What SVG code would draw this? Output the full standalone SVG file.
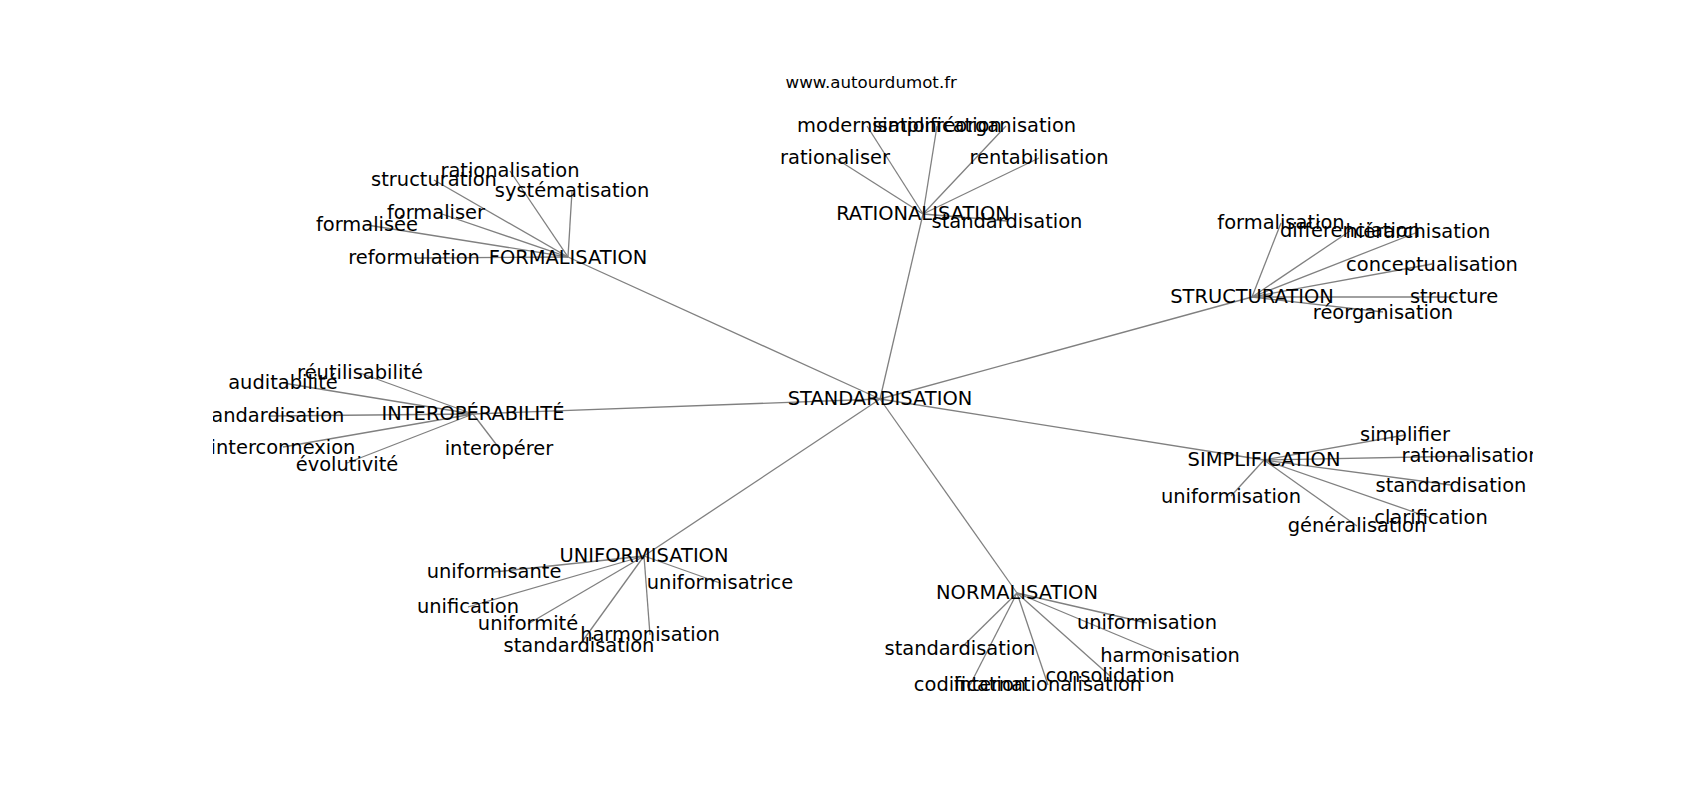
<svg xmlns="http://www.w3.org/2000/svg" width="1700" height="800" viewBox="0 0 1700 800">
<style>
.bg{fill:#ffffff}
.e line{stroke:#808080;stroke-width:1.3;fill:none}
.lbl{font-family:"DejaVu Sans","Liberation Sans",sans-serif;font-size:19.44px;fill:#000000;text-anchor:middle}
.title{font-family:"DejaVu Sans","Liberation Sans",sans-serif;font-size:16.67px;fill:#000000;text-anchor:middle}
</style>
<defs>
<clipPath id="ax"><rect x="213" y="96" width="1320" height="616"/></clipPath>
</defs>
<rect class="bg" x="0" y="0" width="1700" height="800"/>
<text class="title" x="871.25" y="87.7">www.autourdumot.fr</text>
<g clip-path="url(#ax)">
<g id="connectors" class="e">
<line x1="880" y1="399" x2="568" y2="257"/>
<line x1="880" y1="399" x2="923" y2="214"/>
<line x1="880" y1="399" x2="1252" y2="297"/>
<line x1="880" y1="399" x2="473" y2="414"/>
<line x1="880" y1="399" x2="1264" y2="460"/>
<line x1="880" y1="399" x2="644" y2="556"/>
<line x1="880" y1="399" x2="1017" y2="593"/>
<line x1="568" y1="257" x2="510" y2="171"/>
<line x1="568" y1="257" x2="434" y2="180"/>
<line x1="568" y1="257" x2="572" y2="191"/>
<line x1="568" y1="257" x2="436" y2="212"/>
<line x1="568" y1="257" x2="367" y2="225"/>
<line x1="568" y1="257" x2="414" y2="258"/>
<line x1="923" y1="214" x2="867" y2="126"/>
<line x1="923" y1="214" x2="937" y2="126"/>
<line x1="923" y1="214" x2="1006" y2="126"/>
<line x1="923" y1="214" x2="835" y2="158"/>
<line x1="923" y1="214" x2="1039" y2="158"/>
<line x1="923" y1="214" x2="1007" y2="221"/>
<line x1="1252" y1="297" x2="1281" y2="223"/>
<line x1="1252" y1="297" x2="1350" y2="231"/>
<line x1="1252" y1="297" x2="1418" y2="232"/>
<line x1="1252" y1="297" x2="1432" y2="264"/>
<line x1="1252" y1="297" x2="1454" y2="297"/>
<line x1="1252" y1="297" x2="1383" y2="312"/>
<line x1="473" y1="414" x2="360" y2="373"/>
<line x1="473" y1="414" x2="283" y2="383"/>
<line x1="473" y1="414" x2="269" y2="416"/>
<line x1="473" y1="414" x2="283" y2="447"/>
<line x1="473" y1="414" x2="347" y2="463"/>
<line x1="473" y1="414" x2="499" y2="448"/>
<line x1="1264" y1="460" x2="1405" y2="435"/>
<line x1="1264" y1="460" x2="1471" y2="456"/>
<line x1="1264" y1="460" x2="1451" y2="485"/>
<line x1="1264" y1="460" x2="1431" y2="518"/>
<line x1="1264" y1="460" x2="1357" y2="526"/>
<line x1="1264" y1="460" x2="1231" y2="496"/>
<line x1="644" y1="556" x2="494" y2="572"/>
<line x1="644" y1="556" x2="468" y2="607"/>
<line x1="644" y1="556" x2="528" y2="624"/>
<line x1="644" y1="556" x2="650" y2="635"/>
<line x1="644" y1="556" x2="579" y2="646"/>
<line x1="644" y1="556" x2="720" y2="583"/>
<line x1="1017" y1="593" x2="1147" y2="623"/>
<line x1="1017" y1="593" x2="1170" y2="657"/>
<line x1="1017" y1="593" x2="960" y2="649"/>
<line x1="1017" y1="593" x2="970" y2="685"/>
<line x1="1017" y1="593" x2="1048" y2="685"/>
<line x1="1017" y1="593" x2="1110" y2="676"/>
</g>
<g id="n-standardisation"><text class="lbl" x="880" y="405">STANDARDISATION</text></g>
<g id="n-formalisation-hub"><text class="lbl" x="568" y="264">FORMALISATION</text></g>
<g id="n-rationalisation-hub"><text class="lbl" x="923" y="220">RATIONALISATION</text></g>
<g id="n-structuration-hub"><text class="lbl" x="1252" y="303">STRUCTURATION</text></g>
<g id="n-interoperabilite-hub"><text class="lbl" x="473" y="420">INTEROPÉRABILITÉ</text></g>
<g id="n-simplification-hub"><text class="lbl" x="1264" y="466">SIMPLIFICATION</text></g>
<g id="n-uniformisation-hub"><text class="lbl" x="644" y="562">UNIFORMISATION</text></g>
<g id="n-normalisation-hub"><text class="lbl" x="1017" y="599">NORMALISATION</text></g>

<g id="n-f-rationalisation"><text class="lbl" x="510" y="177">rationalisation</text></g>
<g id="n-f-structuration"><text class="lbl" x="434" y="186">structuration</text></g>
<g id="n-f-systematisation"><text class="lbl" x="572" y="197">systématisation</text></g>
<g id="n-f-formaliser"><text class="lbl" x="436" y="219">formaliser</text></g>
<g id="n-f-formalisee"><text class="lbl" x="367" y="231">formalisée</text></g>
<g id="n-f-reformulation"><text class="lbl" x="414" y="264">reformulation</text></g>

<g id="n-r-modernisation"><text class="lbl" x="867" y="132">modernisation</text></g>
<g id="n-r-simplification"><text class="lbl" x="937" y="132">simplification</text></g>
<g id="n-r-reorganisation"><text class="lbl" x="1006" y="132">réorganisation</text></g>
<g id="n-r-rationaliser"><text class="lbl" x="835" y="164">rationaliser</text></g>
<g id="n-r-rentabilisation"><text class="lbl" x="1039" y="164">rentabilisation</text></g>
<g id="n-r-standardisation"><text class="lbl" x="1007" y="228">standardisation</text></g>

<g id="n-s-formalisation"><text class="lbl" x="1281" y="229">formalisation</text></g>
<g id="n-s-differenciation"><text class="lbl" x="1350" y="237">différenciation</text></g>
<g id="n-s-hierarchisation"><text class="lbl" x="1418" y="238">hiérarchisation</text></g>
<g id="n-s-conceptualisation"><text class="lbl" x="1432" y="271">conceptualisation</text></g>
<g id="n-s-structure"><text class="lbl" x="1454" y="303">structure</text></g>
<g id="n-s-reorganisation"><text class="lbl" x="1383" y="319">réorganisation</text></g>

<g id="n-i-reutilisabilite"><text class="lbl" x="360" y="379">réutilisabilité</text></g>
<g id="n-i-auditabilite"><text class="lbl" x="283" y="389">auditabilité</text></g>
<g id="n-i-standardisation"><text class="lbl" x="269" y="422">standardisation</text></g>
<g id="n-i-interconnexion"><text class="lbl" x="283" y="454">interconnexion</text></g>
<g id="n-i-evolutivite"><text class="lbl" x="347" y="471">évolutivité</text></g>
<g id="n-i-interoperer"><text class="lbl" x="499" y="455">interopérer</text></g>

<g id="n-si-simplifier"><text class="lbl" x="1405" y="441">simplifier</text></g>
<g id="n-si-rationalisation"><text class="lbl" x="1471" y="462">rationalisation</text></g>
<g id="n-si-standardisation"><text class="lbl" x="1451" y="492">standardisation</text></g>
<g id="n-si-clarification"><text class="lbl" x="1431" y="524">clarification</text></g>
<g id="n-si-generalisation"><text class="lbl" x="1357" y="532">généralisation</text></g>
<g id="n-si-uniformisation"><text class="lbl" x="1231" y="503">uniformisation</text></g>

<g id="n-u-uniformisante"><text class="lbl" x="494" y="578">uniformisante</text></g>
<g id="n-u-unification"><text class="lbl" x="468" y="613">unification</text></g>
<g id="n-u-uniformite"><text class="lbl" x="528" y="630">uniformité</text></g>
<g id="n-u-harmonisation"><text class="lbl" x="650" y="641">harmonisation</text></g>
<g id="n-u-standardisation"><text class="lbl" x="579" y="652">standardisation</text></g>
<g id="n-u-uniformisatrice"><text class="lbl" x="720" y="589">uniformisatrice</text></g>

<g id="n-n-uniformisation"><text class="lbl" x="1147" y="629">uniformisation</text></g>
<g id="n-n-harmonisation"><text class="lbl" x="1170" y="662">harmonisation</text></g>
<g id="n-n-standardisation"><text class="lbl" x="960" y="655">standardisation</text></g>
<g id="n-n-codification"><text class="lbl" x="970" y="691">codification</text></g>
<g id="n-n-internationalisation"><text class="lbl" x="1048" y="691">internationalisation</text></g>
<g id="n-n-consolidation"><text class="lbl" x="1110" y="682">consolidation</text></g>
</g>
</svg>
